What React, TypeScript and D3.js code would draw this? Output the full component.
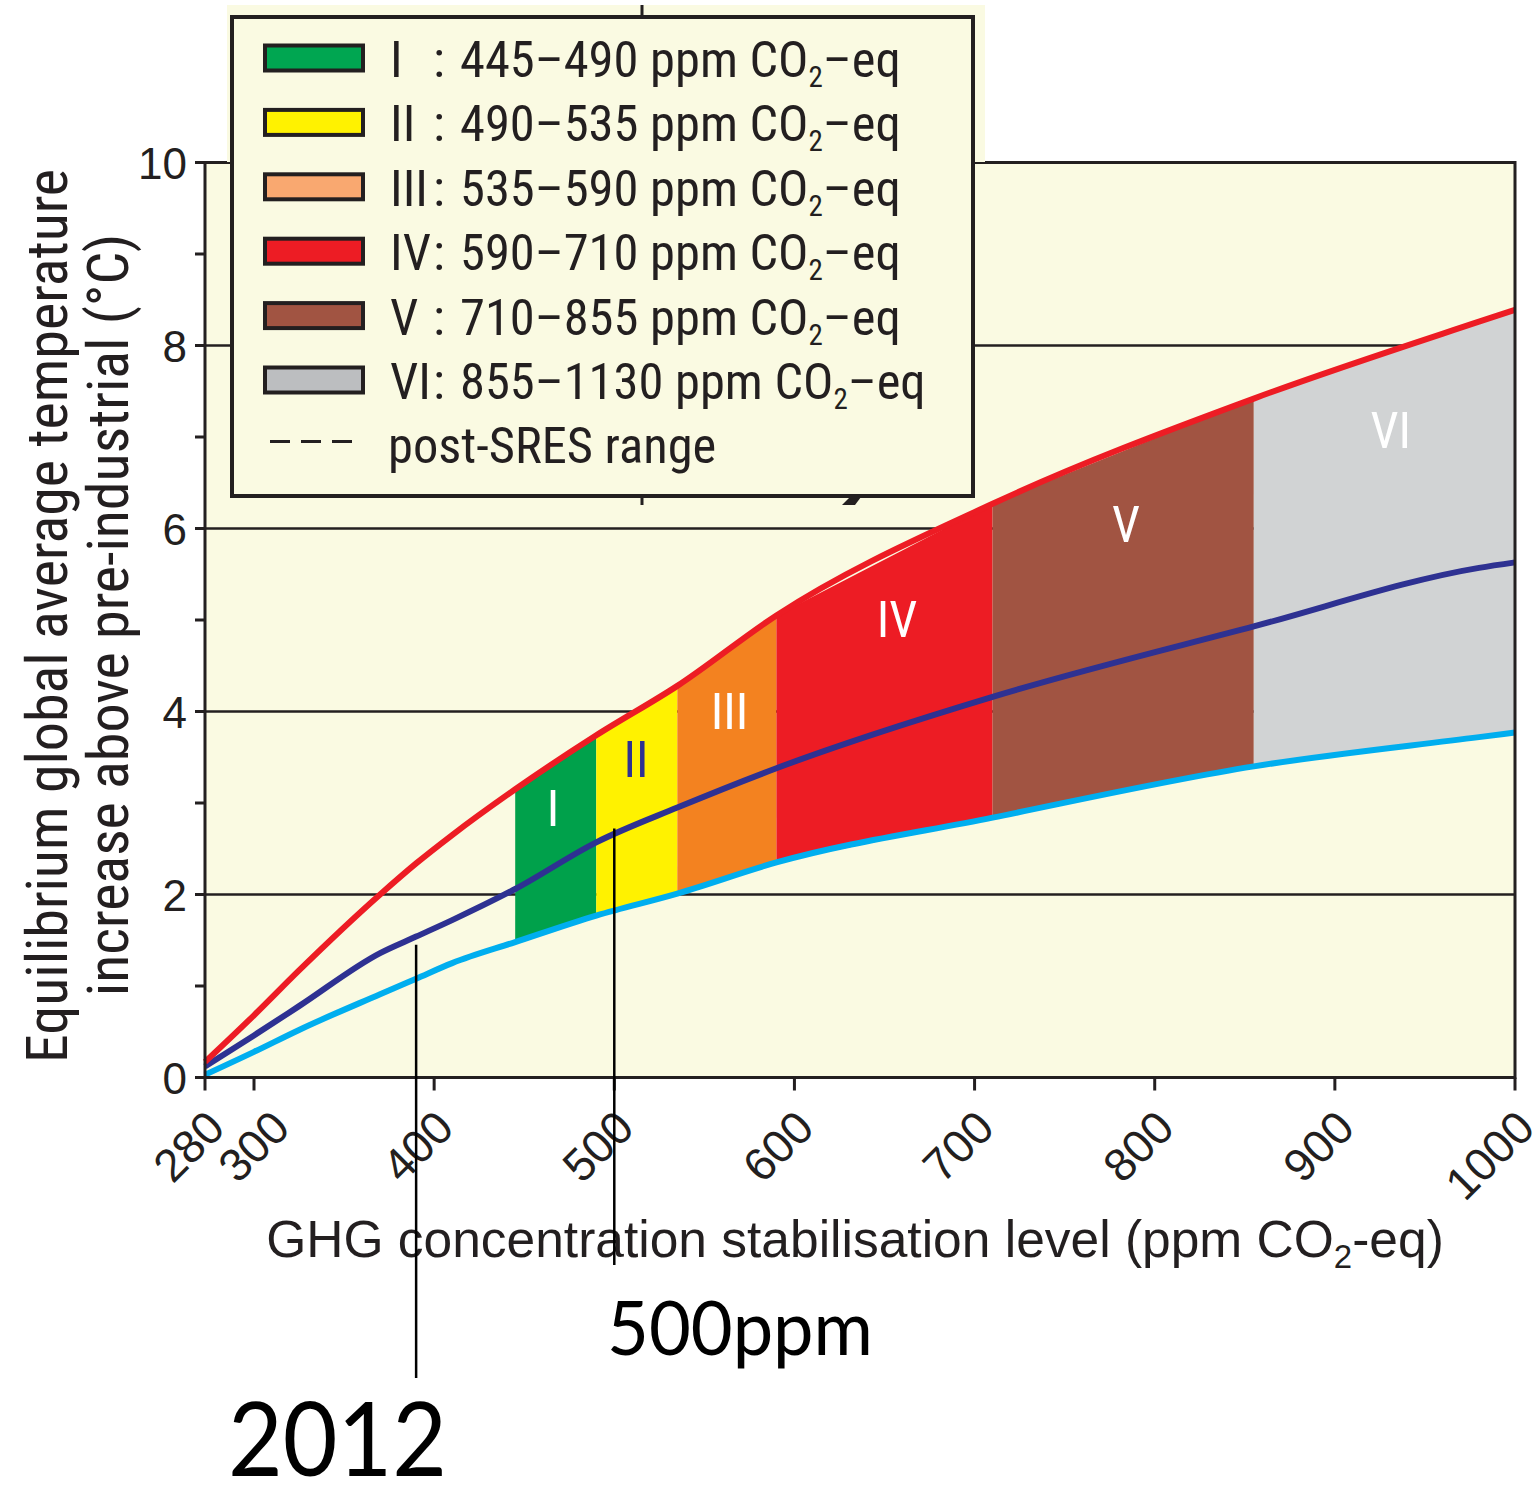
import React from 'react';
import * as d3 from 'd3';

// ---- data ----
const ppm = [280, 300, 325, 370, 390, 410, 445, 490, 535, 590, 710, 855, 980, 1000];
const upperTemp = [0.17, 0.68, 1.17, 2.0, 2.34, 2.65, 3.15, 3.74, 4.28, 5.05, 6.27, 7.42, 8.26, 8.39];
const bestTemp = [0.12, 0.46, 0.78, 1.36, 1.54, 1.72, 2.06, 2.57, 2.95, 3.38, 4.16, 4.93, 5.57, 5.63];
const lowerTemp = [0.03, 0.28, 0.52, 0.91, 1.08, 1.25, 1.48, 1.77, 2.01, 2.35, 2.84, 3.4, 3.72, 3.77];

const categoryNames = ['I', 'II', 'III', 'IV', 'V', 'VI'];
const categoryLow = [445, 490, 535, 590, 710, 855];
const categoryHigh = [490, 535, 590, 710, 855, 1130];
const categoryFill = ['#00a14b', '#fff200', '#f38220', '#ed1c24', '#a15442', '#d1d3d4'];
const legendFill = ['#00a651', '#fff200', '#f9a870', '#ed1c24', '#a15442', '#bcbec0'];
const labelPpm = [466, 512, 564, 657, 784, 931];
const labelTemp = [2.75, 3.28, 3.81, 4.81, 5.85, 6.88];
const labelColor = ['#ffffff', '#2e3192', '#ffffff', '#ffffff', '#ffffff', '#ffffff'];

const xTicks = [280, 300, 400, 500, 600, 700, 800, 900, 1000];
const yTicks = [0, 2, 4, 6, 8, 10];
const yMinorTicks = [1, 3, 5, 7, 9];
const gridTicks = [2, 4, 6, 8];

const annotationPpm = [390, 500];
const annotationTopTemp = [1.45, 2.72];
const annotationText = ['2012', '500ppm'];

const INK = '#231f20';
const CREAM = '#fafae2';
const COND = "'Liberation Sans Narrow', 'Arial Narrow', 'Roboto Condensed', sans-serif";
const SANS = "'Liberation Sans', Arial, Helvetica, sans-serif";

export default function App() {
  const x = d3.scaleLinear().domain([280, 300, 1000]).range([205, 254, 1515]);
  const y = d3.scaleLinear().domain([0, 10]).range([1077.5, 162.5]);

  const pts = ppm.map((p, i) => ({ p, hi: upperTemp[i], best: bestTemp[i], lo: lowerTemp[i] }));

  const area = d3
    .area<any>()
    .x((d) => x(d.p))
    .y0((d) => y(d.lo))
    .y1((d) => y(d.hi));

  const lineOf = (key: string) =>
    d3
      .line<any>()
      .x((d) => x(d.p))
      .y((d) => y(d[key]))
      .curve(d3.curveMonotoneX)(pts) as string;

  const xMin = x.range()[0];
  const xMax = x.range()[2];
  const yTop = y(10);
  const yBot = y(0);

  const rowCenter = (i: number) => 58 + i * 64.4;
  const LEG_FS = 50.5;

  return (
    <svg
      width={1537}
      height={1487}
      style={{ position: 'absolute', left: 0, top: 0, display: 'block', background: '#fff' }}
    >
      {/* plot background */}
      <rect x={xMin} y={yTop} width={xMax - xMin} height={yBot - yTop} fill={CREAM} />

      {/* grid lines */}
      {gridTicks.map((t) => (
        <line key={'g' + t} x1={xMin} x2={xMax} y1={y(t)} y2={y(t)} stroke={INK} strokeWidth={2.5} />
      ))}

      {/* category bands */}
      {categoryNames.map((name, i) => {
        const lo = categoryLow[i];
        const hi = Math.min(categoryHigh[i], 1000);
        const seg = pts.filter((d) => d.p >= lo && d.p <= hi);
        return <path key={'b' + name} d={area(seg) as string} fill={categoryFill[i]} />;
      })}

      {/* band labels */}
      {categoryNames.map((name, i) => (
        <text
          key={'l' + name}
          x={x(labelPpm[i])}
          y={y(labelTemp[i])}
          textAnchor="middle"
          fontFamily={COND}
          fontSize={50}
          fill={labelColor[i]}
        >
          {name}
        </text>
      ))}

      {/* lines */}
      <path d={lineOf('lo')} fill="none" stroke="#00aeef" strokeWidth={6} />
      <path d={lineOf('best')} fill="none" stroke="#2e3192" strokeWidth={6} />
      <path d={lineOf('hi')} fill="none" stroke="#ed1c24" strokeWidth={6} />

      {/* frame */}
      <rect x={xMin} y={yTop} width={xMax - xMin} height={yBot - yTop} fill="none" stroke={INK} strokeWidth={3} />

      {/* y ticks */}
      {yTicks.concat(yMinorTicks).map((t) => (
        <line key={'yt' + t} x1={xMin - 10} x2={xMin} y1={y(t)} y2={y(t)} stroke={INK} strokeWidth={3} />
      ))}
      {yTicks.map((t) => (
        <text
          key={'yl' + t}
          x={187}
          y={y(t) + 16}
          textAnchor="end"
          fontFamily={SANS}
          fontSize={44}
          fill={INK}
        >
          {t}
        </text>
      ))}

      {/* x ticks */}
      {xTicks.map((t) => (
        <line key={'xt' + t} x1={x(t)} x2={x(t)} y1={yBot} y2={yBot + 13} stroke={INK} strokeWidth={3} />
      ))}
      {xTicks.map((t) => (
        <text
          key={'xl' + t}
          transform={`translate(${x(t) + (t === 300 ? 38 : 22)},${yBot + 53}) rotate(-45)`}
          textAnchor="end"
          fontFamily={SANS}
          fontSize={46}
          fill={INK}
        >
          {t}
        </text>
      ))}

      {/* axis titles */}
      <text x={855} y={1257} textAnchor="middle" fontFamily={SANS} fontSize={51.5} fill={INK}>
        GHG concentration stabilisation level (ppm CO
        <tspan fontSize={33} dy={11}>2</tspan>
        <tspan dy={-11}>-eq)</tspan>
      </text>
      <text
        transform="translate(67,616) rotate(-90)"
        textAnchor="middle"
        fontFamily={COND}
        fontSize={58}
        fill={INK}
      >
        Equilibrium global average temperature
      </text>
      <text
        transform="translate(128,615) rotate(-90)"
        textAnchor="middle"
        fontFamily={COND}
        fontSize={58}
        fill={INK}
      >
        increase above pre-industrial (°C)
      </text>

      {/* legend inset */}
      <rect x={227} y={5} width={758} height={157} fill={CREAM} />
      <line x1={642} x2={642} y1={5} y2={505} stroke={INK} strokeWidth={3} />
      <path d="M842,505 L850,497 L861,497 L855,505 Z" fill={INK} />
      <rect x={232} y={17} width={741} height={479} fill={CREAM} stroke={INK} strokeWidth={4} />
      {categoryNames.map((name, i) => (
        <g key={'lg' + name}>
          <rect
            x={265}
            y={rowCenter(i) - 12.5}
            width={98}
            height={25}
            fill={legendFill[i]}
            stroke={INK}
            strokeWidth={4}
          />
          <text x={390} y={rowCenter(i) + 19} fontFamily={COND} fontSize={LEG_FS} fill={INK}>
            {name}
          </text>
          <text x={433} y={rowCenter(i) + 19} fontFamily={COND} fontSize={LEG_FS} fill={INK}>
            :
          </text>
          <text x={460} y={rowCenter(i) + 19} fontFamily={COND} fontSize={LEG_FS} fill={INK}>
            {`${categoryLow[i]}–${categoryHigh[i]} ppm CO`}
            <tspan fontSize={29} dy={10}>2</tspan>
            <tspan dy={-10}>–eq</tspan>
          </text>
        </g>
      ))}
      <line
        x1={270}
        x2={360}
        y1={rowCenter(6) - 3}
        y2={rowCenter(6) - 3}
        stroke={INK}
        strokeWidth={3}
        strokeDasharray="20 11"
      />
      <text x={388} y={rowCenter(6) + 19} fontFamily={COND} fontSize={LEG_FS} fill={INK}>
        post-SRES range
      </text>

      {/* annotations */}
      {annotationPpm.map((p, i) => (
        <line
          key={'an' + p}
          x1={x(p)}
          x2={x(p)}
          y1={y(annotationTopTemp[i])}
          y2={i === 0 ? 1378 : 1265}
          stroke="#000"
          strokeWidth={2.5}
        />
      ))}
      <text x={228} y={1476} fontFamily="Lato, 'Open Sans', sans-serif" fontSize={102} fill="#000" textLength={219} lengthAdjust="spacingAndGlyphs">
        {annotationText[0]}
      </text>
      <text x={607} y={1355} fontFamily="Lato, 'Open Sans', sans-serif" fontSize={76} fill="#000" textLength={266} lengthAdjust="spacingAndGlyphs">
        {annotationText[1]}
      </text>
    </svg>
  );
}
